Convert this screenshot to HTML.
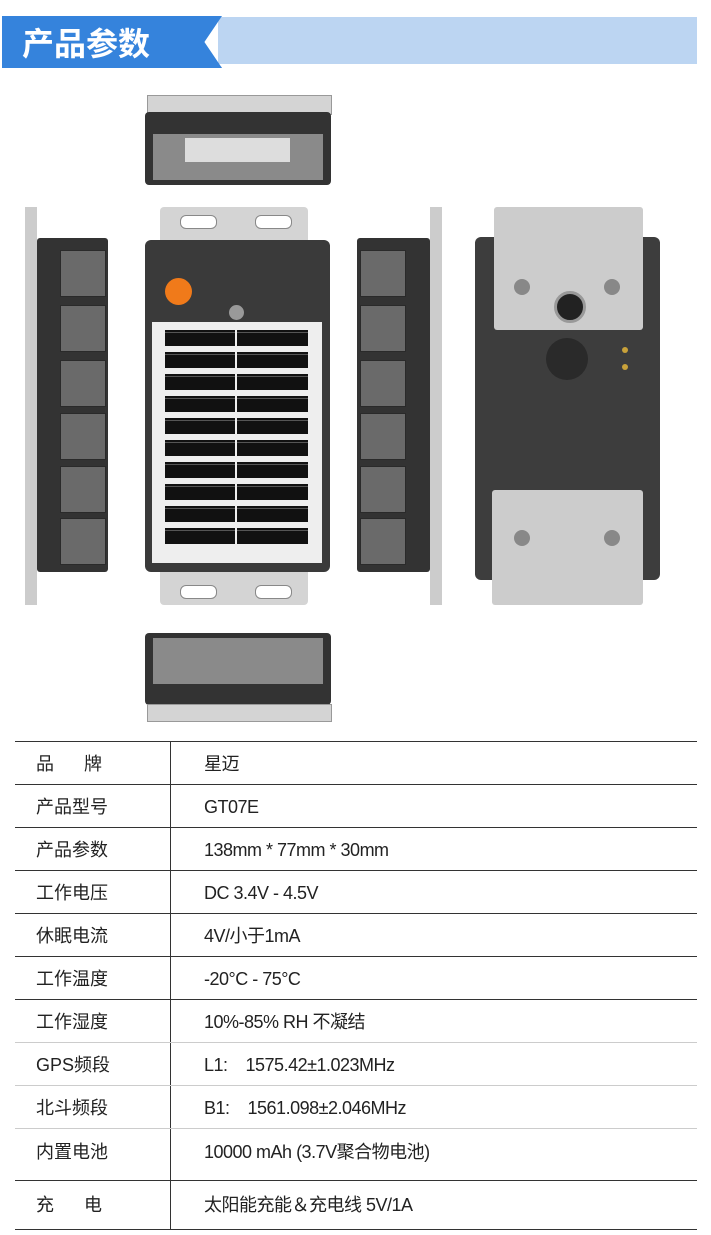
<!DOCTYPE html><html><head><meta charset="utf-8"><style>
body{margin:0;width:711px;height:1235px;background:#fff;position:relative;overflow:hidden;font-family:"Liberation Sans","Noto Sans CJK SC",sans-serif}
.a{position:absolute}
.cell{position:absolute;background:#6a6a6a;border:1px solid #2a2a2a}
.row{position:absolute;left:15px;width:682px;border-top:1px solid #333;font-size:18px;color:#222}
.row span{position:absolute;top:50%;height:26px;line-height:26px;margin-top:-13px;white-space:nowrap}
.k{left:21px}.v{left:189px;letter-spacing:-0.5px}
</style></head><body>
<div class="a" style="left:218px;top:17px;width:479px;height:47px;background:#bcd5f2"></div>
<div class="a" style="left:2px;top:16px;width:220px;height:52px;background:#3583dc;clip-path:polygon(0 0,100% 0,92% 50%,100% 100%,0 100%);box-shadow:0 2px 2px #777"></div>
<div class="a" style="left:22px;top:16px;height:52px;line-height:52px;color:#fff;font-size:32px;font-weight:bold;font-family:'Noto Sans CJK SC',sans-serif">产品参数</div>

<div class="a" style="left:147px;top:95px;width:183px;height:18px;background:#d4d4d4;border:1px solid #999"></div>
<div class="a" style="left:145px;top:112px;width:186px;height:73px;background:#333;border-radius:4px"></div>
<div class="a" style="left:153px;top:134px;width:170px;height:46px;background:#8a8a8a"></div>
<div class="a" style="left:185px;top:138px;width:105px;height:24px;background:#ddd"></div>

<div class="a" style="left:160px;top:207px;width:148px;height:40px;background:#d4d4d4;border-radius:4px"></div>
<div class="a" style="left:160px;top:565px;width:148px;height:40px;background:#d4d4d4;border-radius:4px"></div>
<div class="a" style="left:180px;top:215px;width:35px;height:12px;border-radius:6px;background:#fff;border:1px solid #888"></div>
<div class="a" style="left:255px;top:215px;width:35px;height:12px;border-radius:6px;background:#fff;border:1px solid #888"></div>
<div class="a" style="left:180px;top:585px;width:35px;height:12px;border-radius:6px;background:#fff;border:1px solid #888"></div>
<div class="a" style="left:255px;top:585px;width:35px;height:12px;border-radius:6px;background:#fff;border:1px solid #888"></div>
<div class="a" style="left:145px;top:240px;width:185px;height:332px;background:#3a3a3a;border-radius:6px"></div>
<div class="a" style="left:165px;top:278px;width:27px;height:27px;border-radius:50%;background:#f07a1a"></div>
<div class="a" style="left:229px;top:305px;width:15px;height:15px;border-radius:50%;background:#999"></div>
<div class="a" style="left:152px;top:322px;width:170px;height:241px;background:#eee"></div>
<div class="a" style="left:165px;top:330px;width:143px;height:218px;background:repeating-linear-gradient(#111 0 2px,#555 2px 3px,#111 3px 16px,#eee 16px 22px)"></div>
<div class="a" style="left:235px;top:330px;width:2px;height:218px;background:#eee"></div>

<div class="a" style="left:25px;top:207px;width:12px;height:398px;background:#ccc"></div>
<div class="a" style="left:37px;top:238px;width:71px;height:334px;background:#333;border-radius:3px"></div>
<div class="cell" style="left:60px;top:250px;width:44px;height:45px"></div><div class="cell" style="left:60px;top:305px;width:44px;height:45px"></div><div class="cell" style="left:60px;top:360px;width:44px;height:45px"></div><div class="cell" style="left:60px;top:413px;width:44px;height:45px"></div><div class="cell" style="left:60px;top:466px;width:44px;height:45px"></div><div class="cell" style="left:60px;top:518px;width:44px;height:45px"></div>

<div class="a" style="left:430px;top:207px;width:12px;height:398px;background:#ccc"></div>
<div class="a" style="left:357px;top:238px;width:73px;height:334px;background:#333;border-radius:3px"></div>
<div class="cell" style="left:360px;top:250px;width:44px;height:45px"></div><div class="cell" style="left:360px;top:305px;width:44px;height:45px"></div><div class="cell" style="left:360px;top:360px;width:44px;height:45px"></div><div class="cell" style="left:360px;top:413px;width:44px;height:45px"></div><div class="cell" style="left:360px;top:466px;width:44px;height:45px"></div><div class="cell" style="left:360px;top:518px;width:44px;height:45px"></div>

<div class="a" style="left:475px;top:237px;width:185px;height:343px;background:#3d3d3d;border-radius:6px"></div>
<div class="a" style="left:494px;top:207px;width:149px;height:123px;background:#ccc;border-radius:3px"></div>
<div class="a" style="left:492px;top:490px;width:151px;height:115px;background:#ccc;border-radius:3px"></div>
<div class="a" style="left:554px;top:291px;width:26px;height:26px;border-radius:50%;background:#222;border:3px solid #999"></div>
<div class="a" style="left:546px;top:338px;width:42px;height:42px;border-radius:50%;background:#2a2a2a"></div>
<div class="a" style="left:622px;top:347px;width:6px;height:6px;border-radius:50%;background:#c9a23a"></div>
<div class="a" style="left:622px;top:364px;width:6px;height:6px;border-radius:50%;background:#c9a23a"></div>
<div class="a" style="left:514px;top:279px;width:16px;height:16px;border-radius:50%;background:#888"></div>
<div class="a" style="left:604px;top:279px;width:16px;height:16px;border-radius:50%;background:#888"></div>
<div class="a" style="left:514px;top:530px;width:16px;height:16px;border-radius:50%;background:#888"></div>
<div class="a" style="left:604px;top:530px;width:16px;height:16px;border-radius:50%;background:#888"></div>

<div class="a" style="left:145px;top:633px;width:186px;height:72px;background:#333;border-radius:4px"></div>
<div class="a" style="left:153px;top:638px;width:170px;height:46px;background:#8a8a8a"></div>
<div class="a" style="left:147px;top:704px;width:183px;height:16px;background:#d4d4d4;border:1px solid #999"></div>

<div class="a" style="left:170px;top:741px;width:1px;height:488px;background:#333"></div>
<div class="row" style="top:741px;height:43px"><span class="k">品&nbsp;&nbsp;&nbsp;&nbsp;&nbsp;&nbsp;牌</span><span class="v">星迈</span></div>
<div class="row" style="top:784px;height:43px"><span class="k">产品型号</span><span class="v">GT07E</span></div>
<div class="row" style="top:827px;height:43px"><span class="k">产品参数</span><span class="v">138mm * 77mm * 30mm</span></div>
<div class="row" style="top:870px;height:43px"><span class="k">工作电压</span><span class="v">DC 3.4V - 4.5V</span></div>
<div class="row" style="top:913px;height:43px"><span class="k">休眠电流</span><span class="v">4V/小于1mA</span></div>
<div class="row" style="top:956px;height:43px"><span class="k">工作温度</span><span class="v">-20°C - 75°C</span></div>
<div class="row" style="top:999px;height:43px"><span class="k">工作湿度</span><span class="v">10%-85% RH 不凝结</span></div>
<div class="row" style="top:1042px;height:43px;border-top-color:#ccc"><span class="k">GPS频段</span><span class="v">L1:&nbsp;&nbsp;&nbsp;&nbsp;1575.42±1.023MHz</span></div>
<div class="row" style="top:1085px;height:43px;border-top-color:#ccc"><span class="k">北斗频段</span><span class="v">B1:&nbsp;&nbsp;&nbsp;&nbsp;1561.098±2.046MHz</span></div>
<div class="row" style="top:1128px;height:52px;border-top-color:#ccc"><span class="k" style="margin-top:-16px">内置电池</span><span class="v" style="margin-top:-16px">10000 mAh (3.7V聚合物电池)</span></div>
<div class="row" style="top:1180px;height:48px;border-bottom:1px solid #333"><span class="k">充&nbsp;&nbsp;&nbsp;&nbsp;&nbsp;&nbsp;电</span><span class="v">太阳能充能＆充电线 5V/1A</span></div>
</body></html>
